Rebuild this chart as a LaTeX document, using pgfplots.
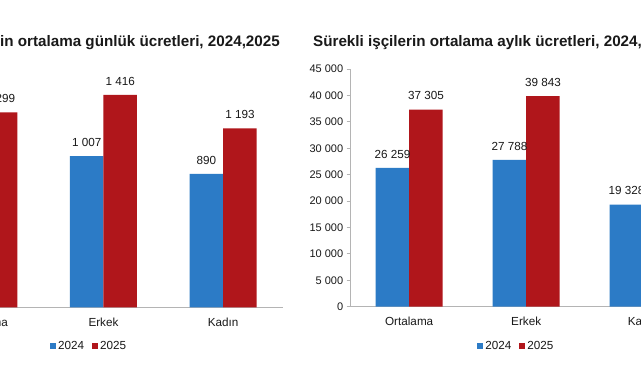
\documentclass[border=0pt]{standalone}
\usepackage{pgfplots}
\pgfplotsset{compat=1.18}
\usepackage{fontspec}
\setmainfont{Liberation Sans}
\definecolor{barblue}{RGB}{44,123,198}
\definecolor{barred}{RGB}{176,22,27}
\definecolor{axgray}{RGB}{180,180,180}
\definecolor{txt}{RGB}{25,25,25}
\pgfplotsset{
  mybars/.style={
    scale only axis,
    ybar=0pt,
    bar width=33.5pt,
    axis x line*=bottom,
    axis y line*=left,
    axis line style={axgray, line width=0.9pt},
    xmin=-0.5, xmax=2.5,
    ymin=0,
    xtick={0,1,2},
    xticklabels={Ortalama,Erkek,Kadın},
    major x tick style={draw=none},
    extra x ticks={-0.5,0.5,1.5,2.5},
    extra x tick labels={},
    extra x tick style={major tick length=4pt, tick align=outside, tick style={axgray, line width=0.9pt}},
    y tick style={axgray, line width=0.9pt},
    major tick length=4pt,
    tick align=outside,
    scaled y ticks=false,
    /pgf/number format/.cd, fixed, 1000 sep={\ }, assume math mode=true,
    /pgfplots/.cd,
    ticklabel style={font=\fontsize{11}{13}\selectfont, text=txt},
    x tick label style={font=\fontsize{11.7}{14}\selectfont, yshift=-3pt},
    nodes near coords,
    every node near coord/.append style={font=\fontsize{11.7}{14}\selectfont, text=txt, anchor=south, inner sep=0pt, yshift=9.4pt},
    legend columns=2,
    legend style={draw=none, fill=none, font=\fontsize{11.7}{14}\selectfont, text=txt,
      /tikz/every even column/.append style={column sep=6pt}},
    legend image code/.code={\fill[#1] (0pt,-3pt) rectangle (6pt,3pt);},
    legend cell align=left,
    clip=false,
  }
}
\begin{document}
\begin{tikzpicture}
\useasboundingbox (0pt,0pt) rectangle (641pt,380pt);
\fill[white] (0pt,0pt) rectangle (641pt,380pt);
\begin{scope}
\clip (0pt,0pt) rectangle (641pt,380pt);
% left chart
\begin{axis}[mybars,
  at={(-76pt,72.7pt)}, anchor=south west,
  width=359pt, height=240pt,
  ymax=1600, ytick={0,200,...,1600},
  legend style={at={(0.46,-0.16)}, anchor=center}]
\addplot[fill=barblue, draw=none] coordinates {(0,915) (1,1007) (2,890)};
\addplot[fill=barred, draw=none] coordinates {(0,1299) (1,1416) (2,1193)};
\legend{2024,2025}
\end{axis}
% right chart
\begin{axis}[mybars,
  at={(350.7pt,73.3pt)}, anchor=south west,
  width=351pt, height=237.7pt,
  ymax=45000, ytick={0,5000,...,45000},
  legend style={at={(0.472,-0.164)}, anchor=center}]
\addplot[fill=barblue, draw=none] coordinates {(0,26259) (1,27788) (2,19328)};
\addplot[fill=barred, draw=none] coordinates {(0,37305) (1,39843) (2,33500)};
\legend{2024,2025}
\end{axis}
\node[anchor=base east, font=\bfseries\fontsize{15.2}{18}\selectfont, text=txt, inner sep=0pt] at (280pt,333.3pt) {Sürekli işçilerin ortalama günlük ücretleri, 2024,2025};
\node[anchor=base west, font=\bfseries\fontsize{15.2}{18}\selectfont, text=txt, inner sep=0pt] at (313pt,333.3pt) {Sürekli işçilerin ortalama aylık ücretleri, 2024,2025};
\end{scope}
\end{tikzpicture}
\end{document}
